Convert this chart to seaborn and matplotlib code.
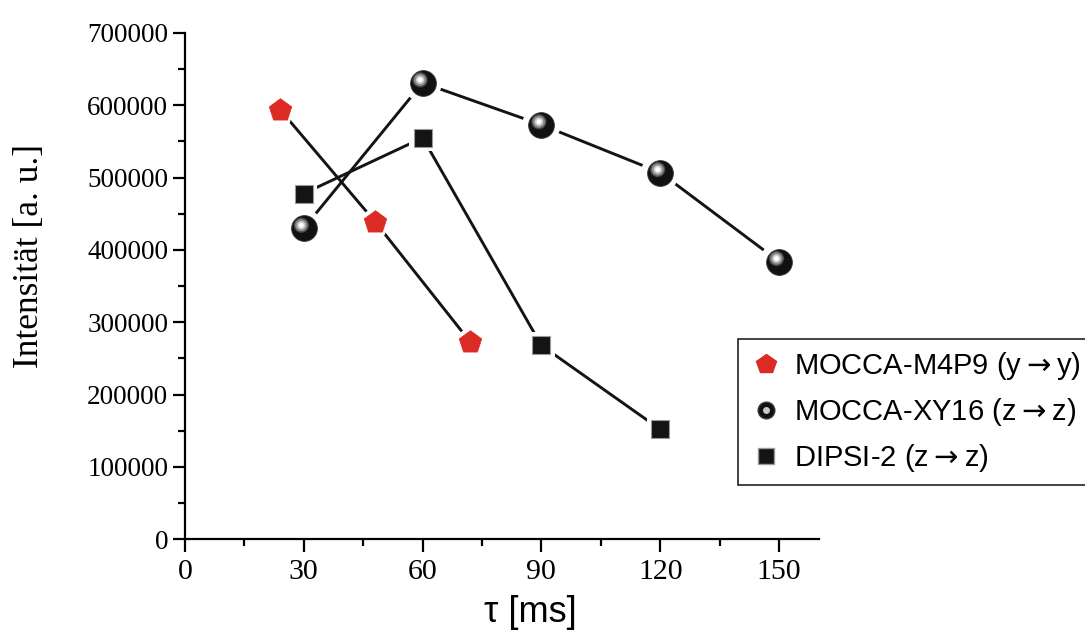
import matplotlib
matplotlib.use("Agg")
import numpy as np
import pandas as pd
import seaborn as sns
import matplotlib.pyplot as plt
from matplotlib.lines import Line2D
from matplotlib.legend_handler import HandlerTuple
from matplotlib.transforms import offset_copy
from matplotlib.ticker import MultipleLocator, FixedLocator

# Mixing time (ms) and integrated intensity (a.u.) for each sequence
m4p9_tau = [24, 48, 72]
m4p9_int = [594000, 439000, 273000]

xy16_tau = [30, 60, 90, 120, 150]
xy16_int = [430000, 631000, 573000, 507000, 384000]

dipsi_tau = [30, 60, 90, 120]
dipsi_int = [478000, 555000, 268000, 152000]

series_names = ["MOCCA-M4P9 (y\u2192y)", "MOCCA-XY16 (z\u2192z)", "DIPSI-2 (z\u2192z)"]
legend_texts = ["MOCCA-M4P9 (y${\\rightarrow}$y)", "MOCCA-XY16 (z${\\rightarrow}$z)", "DIPSI-2 (z${\\rightarrow}$z)"]
x_ticks = [0, 30, 60, 90, 120, 150]
y_ticks = [0, 100000, 200000, 300000, 400000, 500000, 600000, 700000]

df = pd.concat([
    pd.DataFrame({"tau": m4p9_tau, "I": m4p9_int, "series": series_names[0]}),
    pd.DataFrame({"tau": xy16_tau, "I": xy16_int, "series": series_names[1]}),
    pd.DataFrame({"tau": dipsi_tau, "I": dipsi_int, "series": series_names[2]}),
], ignore_index=True)

sns.set_theme(style="white")
plt.rcParams["font.family"] = ["Liberation Serif", "DejaVu Serif"]
plt.rcParams["mathtext.fontset"] = "dejavusans"
plt.rcParams["text.color"] = "black"

RED = "#dc2b25"
INK = "#141414"

fig = plt.figure(figsize=(10.85, 6.33), dpi=100)
ax = fig.add_axes([0.1705, 0.148, 0.584, 0.800])

# connecting lines
sns.lineplot(data=df, x="tau", y="I", hue="series", units="series",
             estimator=None, sort=False,
             palette=[INK, INK, INK], linewidth=2.1, legend=False, ax=ax, zorder=2)

# white halos leave a small gap between lines and symbols
halo_specs = [(series_names[0], "p", 560), (series_names[1], "o", 760), (series_names[2], "s", 380)]
for name, mk, s in halo_specs:
    sub = df[df["series"] == name]
    sns.scatterplot(data=sub, x="tau", y="I", marker=mk, s=s, color="white",
                    edgecolor="none", linewidth=0, legend=False, ax=ax, zorder=3)

# symbols
sub = df[df["series"] == series_names[0]]
sns.scatterplot(data=sub, x="tau", y="I", marker="p", s=290, color=RED,
                edgecolor=RED, linewidth=0.5, legend=False, ax=ax, zorder=4)
sub = df[df["series"] == series_names[2]]
sns.scatterplot(data=sub, x="tau", y="I", marker="s", s=150, color=INK,
                edgecolor="#9a9a9a", linewidth=0.8, legend=False, ax=ax, zorder=4)
sub = df[df["series"] == series_names[1]]
sns.scatterplot(data=sub, x="tau", y="I", marker="o", s=345, color="#111111",
                edgecolor="#3a3a3a", linewidth=0.6, legend=False, ax=ax, zorder=4)
# shaded highlight on the spheres
shift = offset_copy(ax.transData, fig=fig, x=-2.5, y=3.0, units="dots")
for s, c in [(120, "#4a4a4a"), (78, "#8c8c8c"), (36, "#cfcfcf"), (12, "#ffffff")]:
    ax.scatter(sub["tau"], sub["I"], s=s, color=c, edgecolor="none",
               transform=shift, zorder=5)

ax.set_xlim(0, 160)
ax.set_ylim(0, 700000)
ax.xaxis.set_major_locator(FixedLocator(x_ticks))
ax.xaxis.set_minor_locator(MultipleLocator(15))
ax.yaxis.set_major_locator(FixedLocator(y_ticks))
ax.yaxis.set_minor_locator(MultipleLocator(50000))
ax.set_xticklabels([str(v) for v in x_ticks])
ax.set_yticklabels([str(v) for v in y_ticks])

for side in ["top", "right"]:
    ax.spines[side].set_visible(False)
for side in ["left", "bottom"]:
    ax.spines[side].set_linewidth(1.6)
    ax.spines[side].set_color("black")

ax.tick_params(axis="both", which="major", direction="out", length=9, width=1.6,
               color="black", left=True, bottom=True)
ax.tick_params(axis="both", which="minor", direction="out", length=5, width=1.6,
               color="black", left=True, bottom=True)
ax.tick_params(axis="x", which="major", labelsize=21.5, pad=5, labelcolor="black")
ax.tick_params(axis="y", which="major", labelsize=19.5, pad=3, labelcolor="black")

ax.set_xlabel("\u03c4 [ms]", fontsize=26, family=["Liberation Sans", "DejaVu Sans"], color="black")
ax.set_ylabel("Intensit\u00e4t [a. u.]", fontsize=25.5, color="black")
ax.xaxis.set_label_coords(0.545, -0.110)
ax.yaxis.set_label_coords(-0.220, 0.56)
ax.grid(False)

# legend
h_red = Line2D([], [], linestyle="none", marker="p", markersize=15, color=RED, markeredgecolor=RED)
h_ball = Line2D([], [], linestyle="none", marker="o", markersize=12, color="#111111", markeredgecolor="#3a3a3a")
h_hi = Line2D([], [], linestyle="none", marker="o", markersize=5, color="#c8c8c8", markeredgecolor="none")
h_sq = Line2D([], [], linestyle="none", marker="s", markersize=11, color=INK, markeredgecolor="#9a9a9a")
leg = fig.legend([h_red, (h_ball, h_hi), h_sq], legend_texts,
                 handler_map={tuple: HandlerTuple(ndivide=1)},
                 loc="upper left", bbox_to_anchor=(0.68, 1 - 339 / 633),
                 prop={"family": ["Liberation Sans", "DejaVu Sans"], "size": 21},
                 labelcolor="black",
                 frameon=True, fancybox=False, framealpha=1, edgecolor="#222222",
                 borderpad=0.38, labelspacing=0.48, handlelength=1.2,
                 handletextpad=0.35, borderaxespad=0)
leg.get_frame().set_linewidth(1.2)

fig.savefig("out.png", dpi=100)
